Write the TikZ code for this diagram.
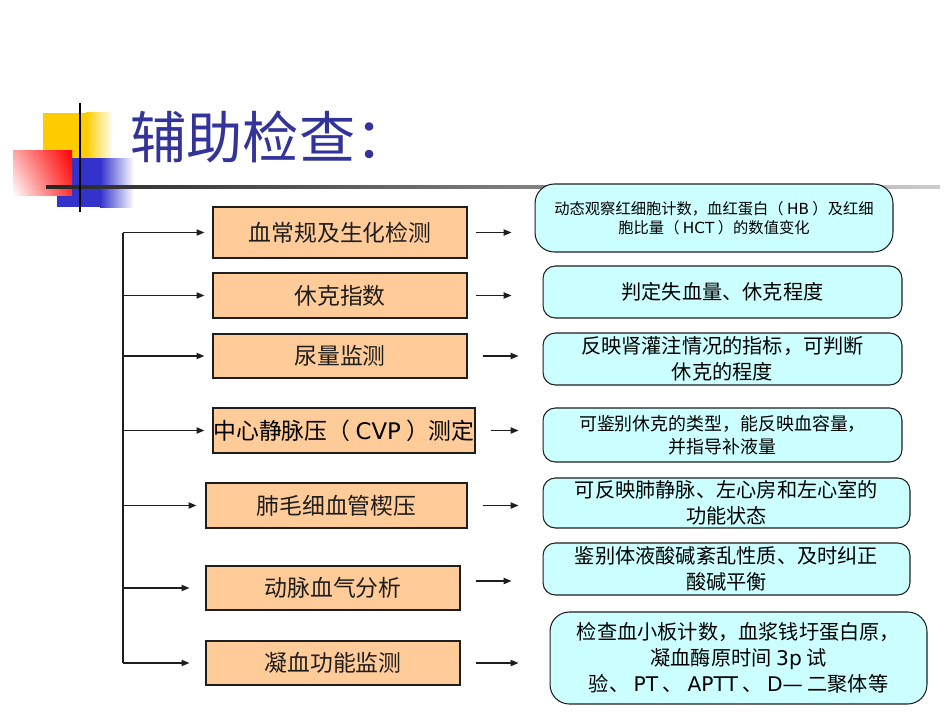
\documentclass[tikz,border=0pt]{standalone}
\usepackage{fontspec}
\setmainfont{Noto Sans CJK SC}
\newfontfamily\latinfont{DejaVu Sans}
\usepackage{tikz}
\usetikzlibrary{arrows.meta, positioning, calc, shadings}
\definecolor{mytitle}{RGB}{51,51,153}
\definecolor{myorange}{RGB}{255,204,153}
\definecolor{mycyan}{RGB}{204,255,255}
\definecolor{mydark}{RGB}{30,30,30}
\definecolor{myyellow}{RGB}{255,204,0}
\definecolor{myblue}{RGB}{51,51,204}
\definecolor{myred}{RGB}{255,0,0}
\newcommand{\lat}[1]{{\latinfont #1}}
\tikzset{
  testbox/.style={rectangle, draw=mydark, fill=myorange, inner sep=0pt,
    line width=0.7pt, font=\fontsize{13}{15}\selectfont, text=mydark,
    minimum width=5.08cm, minimum height=0.88cm},
  notebox/.style={rectangle, draw=mydark, fill=mycyan, rounded corners=7pt,
    inner sep=0pt, line width=0.6pt, align=center,
    font=\fontsize{11.5}{14.5}\selectfont, text=black},
  arrow/.style={-{Triangle[length=4.5pt,width=3.6pt]}, line width=0.7pt, color=mydark},
  line/.style={line width=0.7pt, color=mydark}
}

\begin{document}
\begin{tikzpicture}[x=0.02cm, y=-0.02cm]
  \useasboundingbox (0,0) rectangle (950,713);

  % Title decoration
  \fill[myyellow] (43,113) rectangle (86,158);
  \shade[left color=myyellow, right color=white] (86,113) rectangle (113,158);
  \fill[myblue] (57,158) rectangle (100,207);
  \shade[left color=myblue, right color=white] (100,158) rectangle (134,207);
  \shade[upper left=myred!35, upper right=myred, lower left=white, lower right=myred!80] (13,150) rectangle (72,195);
  \shade[left color=black!85, right color=black!20] (46,185.5) rectangle (940,188.5);
  \draw[line width=1.2pt, black] (80,103) -- (80,212);
  \node[anchor=west, inner sep=0pt, text=mytitle, font=\fontsize{32}{36}\selectfont] (title) at (130,137) {辅助检查：};

  % Tests
  \node[testbox, minimum height=1.02cm] (b1) at (340,232.5) {血常规及生化检测};
  \node[testbox, minimum height=0.9cm] (b2) at (340,295.5) {休克指数};
  \node[testbox] (b3) at (340,356) {尿量监测};
  \node[testbox, minimum width=5.24cm, minimum height=0.9cm,
    label={center:{\fontsize{13}{15}\selectfont 中心静脉压（ \lat{CVP} ）测定}}] (b4) at (344,430.5) {};
  \node[testbox, minimum width=5.22cm, minimum height=0.9cm] (b5) at (336.5,505.5) {肺毛细血管楔压};
  \node[testbox] (b6) at (333,588) {动脉血气分析};
  \node[testbox] (b7) at (333,663) {凝血功能监测};

  % Notes
  \node[notebox, rounded corners=11pt, minimum width=7.16cm, minimum height=1.36cm,
    font=\fontsize{8.7}{10.8}\selectfont] (r1) at (714,218)
    {动态观察红细胞计数，血红蛋白（ \lat{HB} ）及红细\\胞比量（ \lat{HCT} ）的数值变化};
  \node[notebox, minimum width=7.18cm, minimum height=1.04cm] (r2) at (722.5,292) {判定失血量、休克程度};
  \node[notebox, minimum width=7.18cm, minimum height=1.04cm] (r3) at (722.5,359)
    {反映肾灌注情况的指标，可判断\\休克的程度};
  \node[notebox, minimum width=7.18cm, minimum height=1.08cm,
    font=\fontsize{10.2}{13}\selectfont] (r4) at (722.5,435)
    {可鉴别休克的类型，能反映血容量，\\并指导补液量};
  \node[notebox, minimum width=7.34cm, minimum height=1.0cm,
    font=\fontsize{11.5}{15}\selectfont] (r5) at (726.5,503)
    {可反映肺静脉、左心房和左心室的\\功能状态};
  \node[notebox, minimum width=7.34cm, minimum height=1.04cm,
    font=\fontsize{11.5}{15}\selectfont] (r6) at (726.5,569)
    {鉴别体液酸碱紊乱性质、及时纠正\\酸碱平衡};
  \node[notebox, rounded corners=11pt, minimum width=7.54cm, minimum height=1.84cm,
    font=\fontsize{11.5}{14.7}\selectfont] (r7) at (738.5,658)
    {检查血小板计数，血浆钱圩蛋白原，\\凝血酶原时间 \lat{3p} 试\\验、 \lat{PT} 、 \lat{APTT} 、 \lat{D—} 二聚体等};

  % Trunk
  \coordinate (top) at (123,232.5);
  \coordinate (bot) at (123,663);
  \draw[line] (top) -- (bot);

  % Branch arrows
  \draw[arrow, shorten >=0.16cm] (top) -- (b1.west);
  \draw[arrow, shorten >=0.16cm] (b2.west -| top) -- (b2.west);
  \draw[arrow, shorten >=0.16cm] (b3.west -| top) -- (b3.west);
  \draw[arrow, shorten >=0.16cm] (b4.west -| top) -- (b4.west);
  \draw[arrow, shorten >=0.18cm] (b5.west -| top) -- (b5.west);
  \draw[arrow, shorten >=0.32cm] (b6.west -| top) -- (b6.west);
  \draw[arrow, shorten >=0.32cm] (b7.west -| top) -- (b7.west);

  % Arrows to notes
  \draw[arrow, shorten <=0.16cm, shorten >=0.46cm] (b1.east) -- (b1.east -| r1.west);
  \draw[arrow, shorten <=0.16cm, shorten >=0.62cm] (b2.east) -- (b2.east -| r2.west);
  \draw[arrow, shorten <=0.3cm, shorten >=0.48cm] (b3.east) -- (b3.east -| r3.west);
  \draw[arrow, shorten <=0.3cm, shorten >=0.48cm] (b4.east) -- (b4.east -| r4.west);
  \draw[arrow, shorten <=0.3cm, shorten >=0.48cm] (b5.east) -- (b5.east -| r5.west);
  \draw[arrow, shorten <=0.3cm, shorten >=0.62cm] ([yshift=0.14cm]b6.east) -- ([yshift=0.14cm]b6.east -| r6.west);
  \draw[arrow, shorten <=0.3cm, shorten >=0.62cm] (b7.east) -- (b7.east -| r7.west);
\end{tikzpicture}
\end{document}
